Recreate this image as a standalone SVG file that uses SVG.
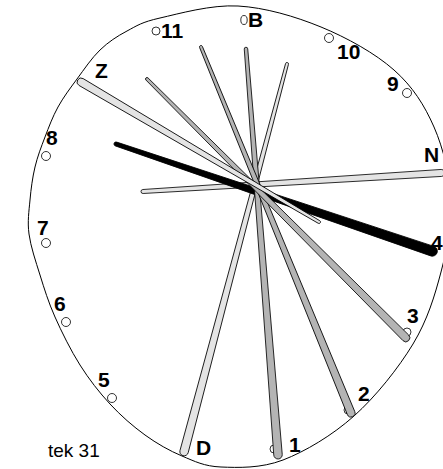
<svg xmlns="http://www.w3.org/2000/svg" width="443" height="469" viewBox="0 0 443 469">
<style>
.lbl{font-family:"Liberation Sans",Arial,sans-serif;font-weight:bold;font-size:21px;fill:#000}
.cap{font-family:"Liberation Sans",Arial,sans-serif;font-size:19px;fill:#000}
.dot{fill:#fff;stroke:#000;stroke-width:0.8}
.lt{fill:#e4e4e4;stroke:#000;stroke-width:0.8}
.md{fill:#b4b4b4;stroke:#000;stroke-width:0.8}
.bk{fill:#000;stroke:#000;stroke-width:0.8}
</style>
<rect width="443" height="469" fill="#fff"/>
<path id="outline" fill="#fff" stroke="#000" stroke-width="1" d="M238,6 C264.83,7.5 295,16.33 321,27 C347,37.67 375.17,53.33 394,70 C412.83,86.67 424.5,105.33 434,127 C443.5,148.67 449.83,175.83 451,200 C452.17,224.17 447.33,248 441,272 C434.67,296 427.5,320 413,344 C398.5,368 375.67,396.67 354,416 C332.33,435.33 305.17,451.5 283,460 C260.83,468.5 237.83,467.67 221,467 C204.17,466.33 194.67,461.33 182,456 C169.33,450.67 157,443.67 145,435 C133,426.33 120.83,415.67 110,404 C99.17,392.33 89.17,379.5 80,365 C70.83,350.5 61.67,332 55,317 C48.33,302 44.33,288.83 40,275 C35.67,261.17 30.67,246.5 29,234 C27.33,221.5 29,211.17 30,200 C31,188.83 32.5,177.5 35,167 C37.5,156.5 41.17,147 45,137 C48.83,127 52.67,116.67 58,107 C63.33,97.33 70,88.5 77,79 C84,69.5 91.67,58 100,50 C108.33,42 117,36.33 127,31 C137,25.67 141.5,22.17 160,18 C178.5,13.83 211.17,4.5 238,6 Z"/>
<g id="m11"><circle class="dot" cx="156" cy="31" r="4"/><text class="lbl" x="161" y="38">11</text></g>
<g id="mB"><ellipse class="dot" cx="244" cy="20" rx="3.2" ry="4.5"/><text class="lbl" x="248" y="27">B</text></g>
<g id="m10"><circle class="dot" cx="329" cy="38" r="4.5"/><text class="lbl" x="337" y="59">10</text></g>
<g id="m9"><circle class="dot" cx="407" cy="93" r="4.5"/><text class="lbl" x="387" y="91">9</text></g>
<g id="mN"><text class="lbl" x="424" y="162">N</text></g>
<g id="m4"><text class="lbl" x="431" y="250">4</text></g>
<g id="m3"><circle class="dot" cx="407" cy="332" r="4"/><text class="lbl" x="407" y="323">3</text></g>
<g id="m2"><circle class="dot" cx="348" cy="410" r="4"/><text class="lbl" x="358" y="401">2</text></g>
<g id="m1"><circle class="dot" cx="274" cy="449" r="4"/><text class="lbl" x="289" y="452">1</text></g>
<g id="mD"><text class="lbl" x="196" y="455">D</text></g>
<g id="m5"><circle class="dot" cx="112" cy="398" r="4.5"/><text class="lbl" x="98" y="387">5</text></g>
<g id="m6"><circle class="dot" cx="66" cy="322" r="4.5"/><text class="lbl" x="54" y="311">6</text></g>
<g id="m7"><circle class="dot" cx="46" cy="243" r="4.5"/><text class="lbl" x="37" y="235">7</text></g>
<g id="m8"><circle class="dot" cx="46" cy="156" r="4.5"/><text class="lbl" x="46" y="145">8</text></g>
<g id="mZ"><text class="lbl" x="95" y="78">Z</text></g>
<g id="hands">
<path id="barN" class="lt" transform="translate(143,191.5) rotate(-3.56)" d="M0,-2 L299,-3.5 A3.5,3.5 0 0 1 299,3.5 L0,2 A2,2 0 0 1 0,-2 Z"/>
<path id="barD" class="lt" transform="translate(287,64) rotate(104.87)" d="M0,-1.5 L401,-4.25 A4.25,4.25 0 0 1 401,4.25 L0,1.5 A1.5,1.5 0 0 1 0,-1.5 Z"/>
<path id="bar4" class="bk" transform="translate(116,144) rotate(18.71)" d="M0,-2 L334,-5 A5,5 0 0 1 334,5 L0,2 A2,2 0 0 1 0,-2 Z"/>
<path id="bar1" class="md" transform="translate(246,49) rotate(85.49)" d="M0,-1.75 L407,-4.25 A4.25,4.25 0 0 1 407,4.25 L0,1.75 A1.75,1.75 0 0 1 0,-1.75 Z"/>
<path id="bar2" class="md" transform="translate(201,47) rotate(67.71)" d="M0,-1.5 L395.5,-4 A4,4 0 0 1 395.5,4 L0,1.5 A1.5,1.5 0 0 1 0,-1.5 Z"/>
<path id="bar3" class="md" transform="translate(147,79) rotate(45)" d="M0,-1.5 L366,-4 A4,4 0 0 1 366,4 L0,1.5 A1.5,1.5 0 0 1 0,-1.5 Z"/>
<path id="barZ" class="lt" transform="translate(319,222) rotate(210.47)" d="M0,-1.5 L276,-4 A4,4 0 0 1 276,4 L0,1.5 A1.5,1.5 0 0 1 0,-1.5 Z"/>
</g>
<text id="caption" class="cap" x="48" y="457">tek 31</text>
</svg>
